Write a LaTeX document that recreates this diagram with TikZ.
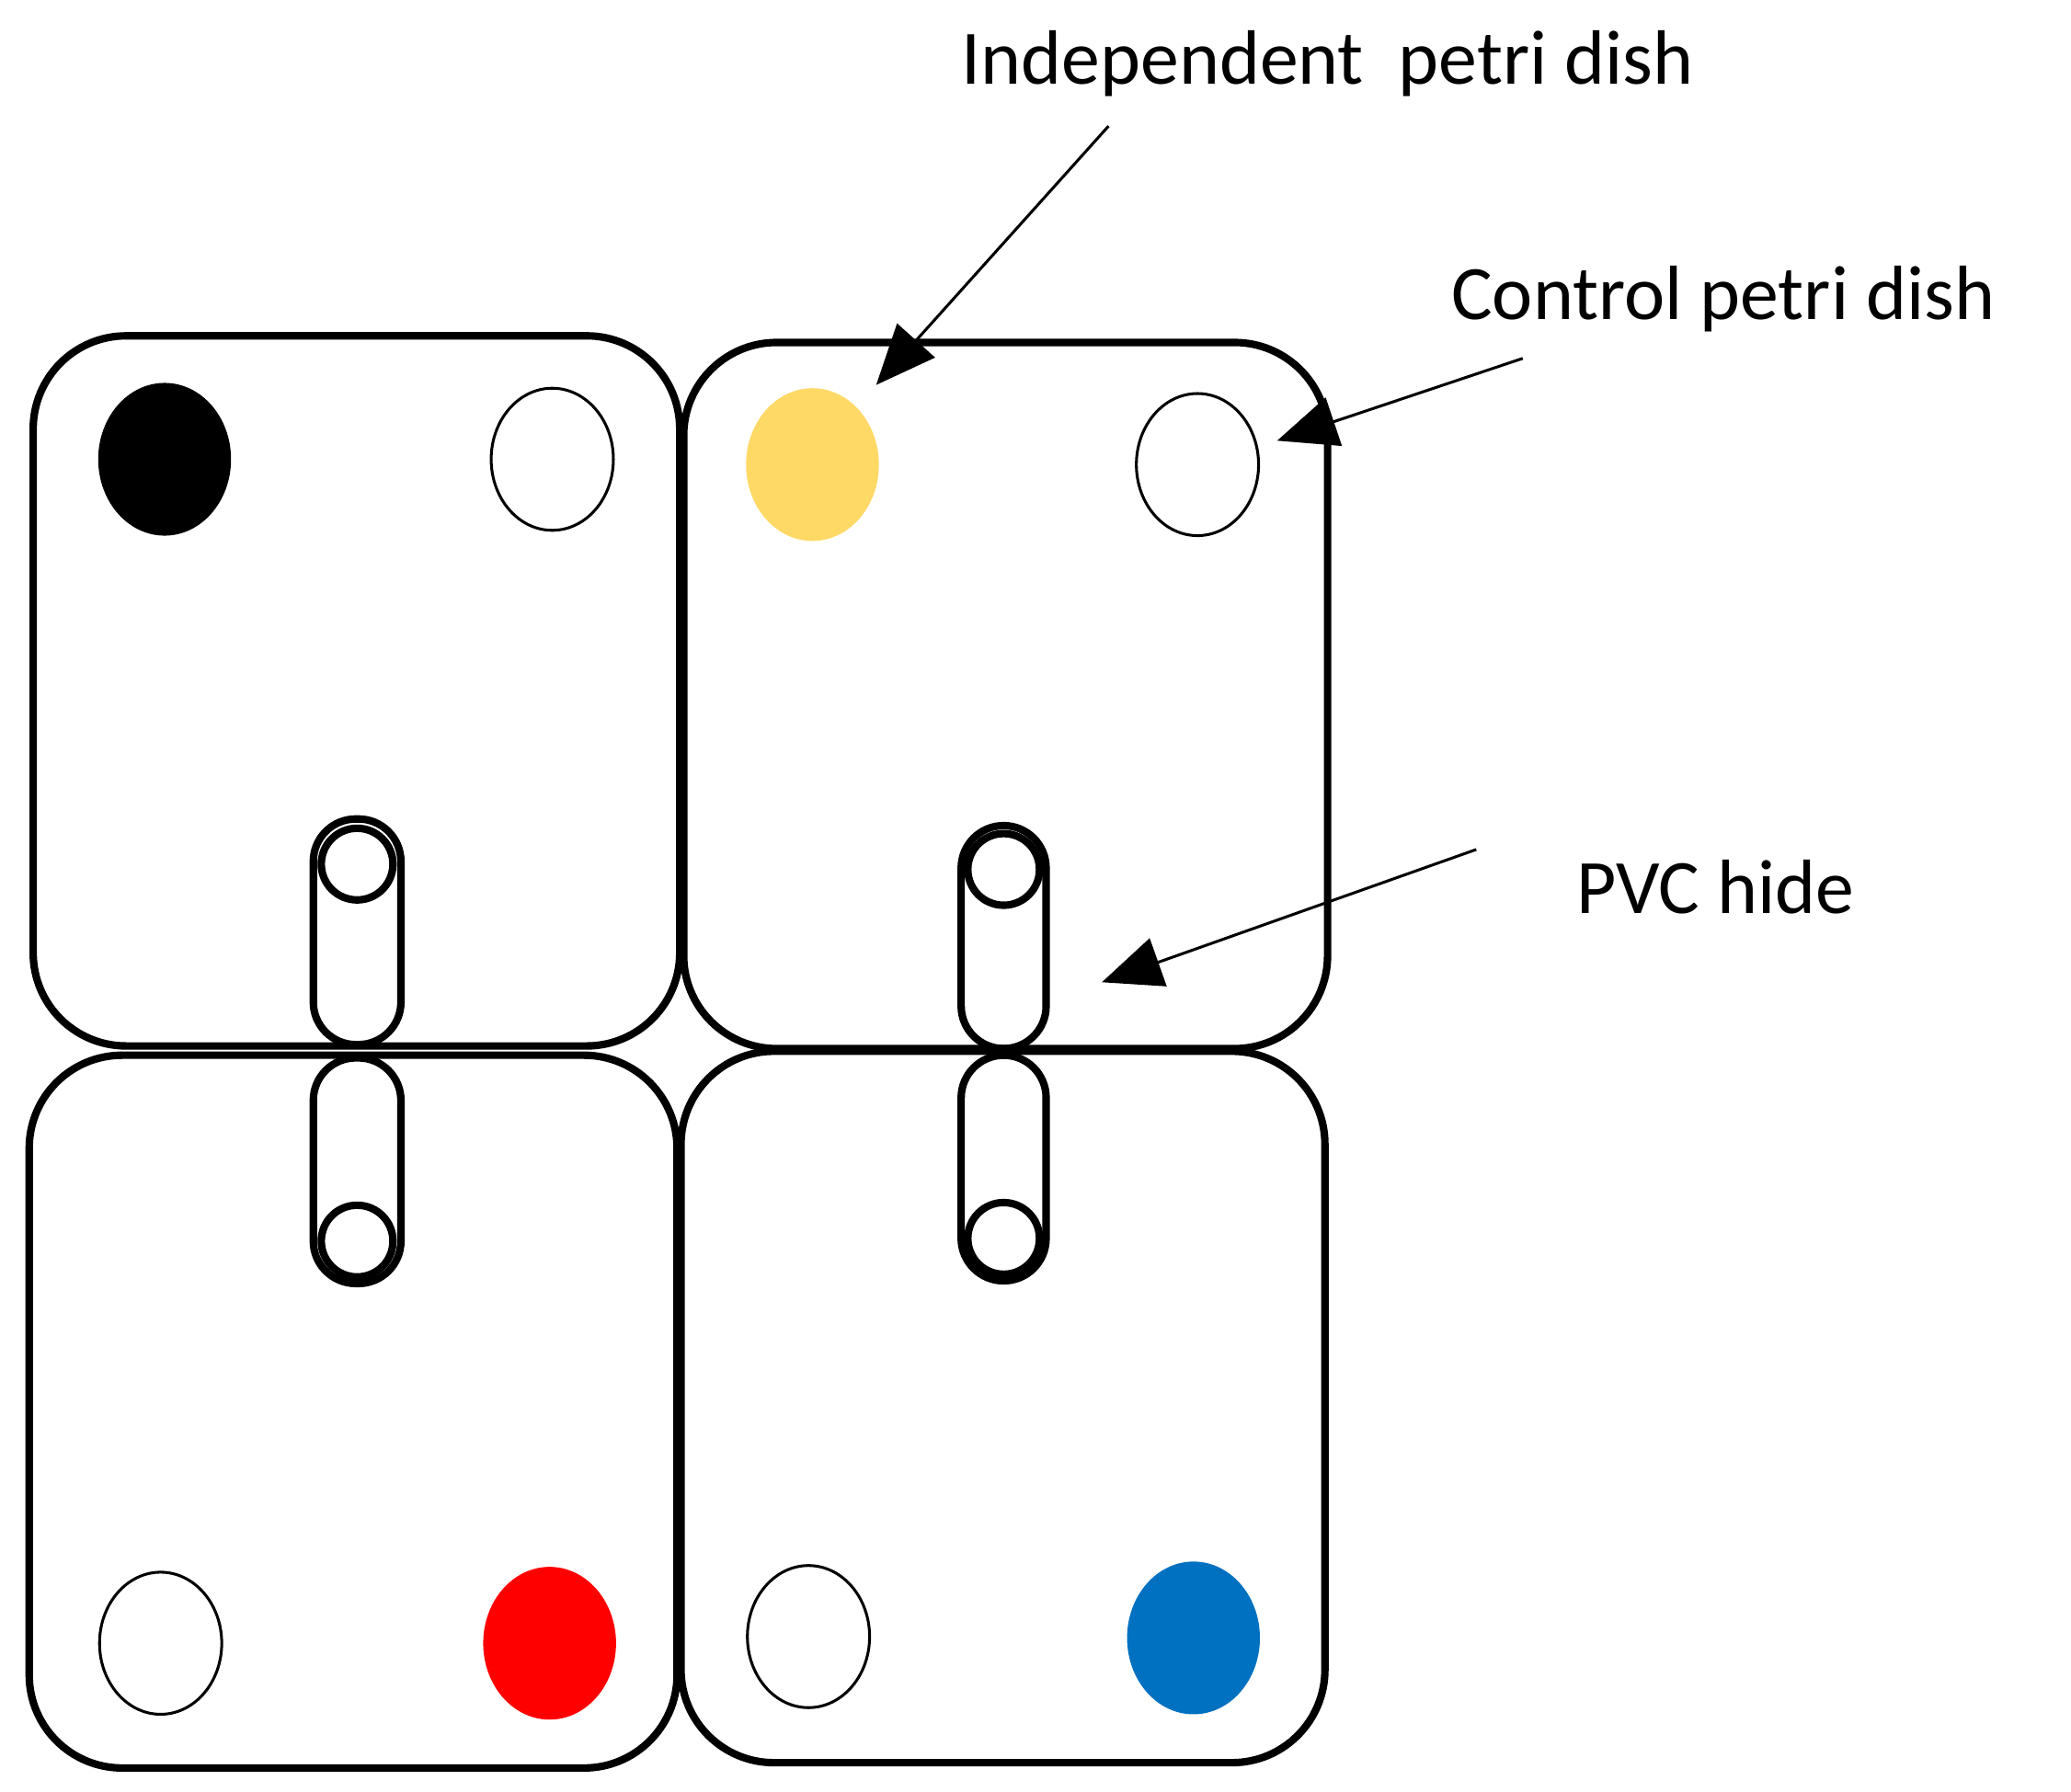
\documentclass[tikz,border=0pt]{standalone}
\usepackage{fontspec}
\setmainfont{Carlito}
\usetikzlibrary{arrows.meta,shapes.geometric}
\definecolor{dishyellow}{HTML}{FFD966}
\definecolor{dishblue}{HTML}{0070C0}
\tikzset{
  box/.style={line width=1.6pt, rounded corners=0.7cm},
  dish/.style={ellipse, draw, line width=0.6pt, minimum width=0.92cm, minimum height=1.07cm, inner sep=0pt},
  full/.style={ellipse, minimum width=1cm, minimum height=1.15cm, inner sep=0pt},
  tube/.style={line width=1.6pt, rounded corners=0.32cm},
  lbl/.style={font=\fontsize{16.5}{18}\selectfont},
  pointer/.style={-{Triangle[length=0.45cm,width=0.38cm]}, line width=0.6pt}
}
\begin{document}
\begin{tikzpicture}[x=0.01cm,y=-0.01cm]
\useasboundingbox (0,0) rectangle (1560,1350);
% cages
\draw [box] (25,253) rectangle (512,788);
\draw [box] (515,258) rectangle (1000,790);
\draw [box] (22,795) rectangle (510,1332);
\draw [box] (513,792) rectangle (998,1328);
% petri dishes
\node [full, fill=black] (tlA) at (124,346) {};
\node [dish] (tlB) at (416,346) {};
\node [full, fill=dishyellow] (trA) at (612,350) {};
\node [dish] (trB) at (902,350) {};
\node [dish] (blA) at (121,1238) {};
\node [full, fill=red] (blB) at (414,1238) {};
\node [dish] (brA) at (609,1233) {};
\node [full, fill=dishblue] (brB) at (899,1234) {};
% tubes
\draw [tube] (236,617) rectangle (302,787);
\draw [line width=1.6pt] (269,651) circle (27);
\draw [tube] (236,797) rectangle (302,967);
\draw [line width=1.6pt] (269,935) circle (27);
\draw [tube] (724,622) rectangle (788,790);
\draw [line width=1.6pt] (756,655) circle (27);
\draw [tube] (724,795) rectangle (788,965);
\draw [line width=1.6pt] (756,933) circle (27);
% labels
\node [lbl] (indep) at (1000,48) {Independent\ \ petri dish};
\node [lbl] (ctrl) at (1298,225) {Control petri dish};
\node [lbl] (pvc) at (1292,668) {PVC hide};
\coordinate (indepS) at (835,95);
\coordinate (indepE) at (660,290);
\coordinate (ctrlS) at (1147,270);
\coordinate (ctrlE) at (962,332);
\coordinate (pvcS) at (1112,640);
\coordinate (pvcE) at (830,740);
\draw [pointer] (indepS) -- (indepE);
\draw [pointer] (ctrlS) -- (ctrlE);
\draw [pointer] (pvcS) -- (pvcE);
\end{tikzpicture}
\end{document}
